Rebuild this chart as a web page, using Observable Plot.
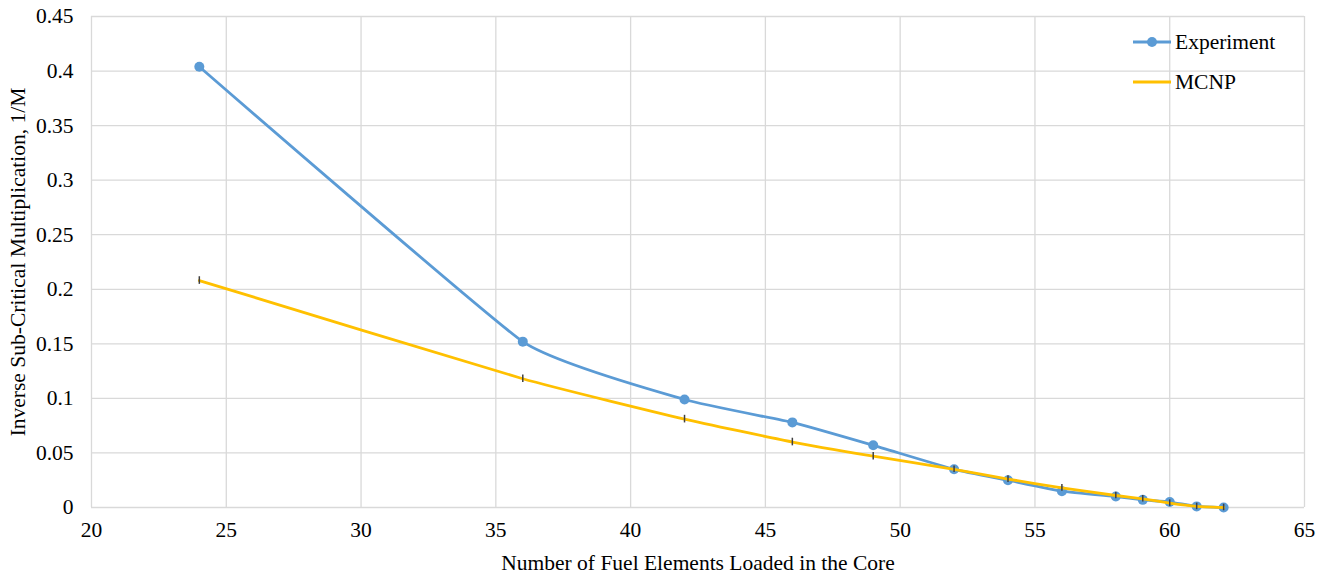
<!DOCTYPE html>
<html>
<head>
<meta charset="utf-8">
<script src="https://cdn.jsdelivr.net/npm/d3@7"></script>
<script src="https://cdn.jsdelivr.net/npm/@observablehq/plot@0.6"></script>
<style>
  html, body { margin: 0; padding: 0; background: #fff; }
  #wrap { position: relative; width: 1329px; height: 577px; font-family: "Liberation Serif", "Times New Roman", serif; }
  #legend { position: absolute; left: 1133px; top: 22px; font-size: 21.5px; color: #000; }
  .li { display: flex; align-items: center; height: 40px; }
  .li svg { margin-right: 4px; }
  #chart svg text { font-family: "Liberation Serif", "Times New Roman", serif; }
</style>
</head>
<body>
<div id="wrap">
  <div id="chart"></div>
  <div id="legend"></div>
</div>
<script>
const fuelElements = [24, 36, 42, 46, 49, 52, 54, 56, 58, 59, 60, 61, 62];
const experiment   = [0.404, 0.152, 0.099, 0.078, 0.057, 0.035, 0.025, 0.015, 0.010, 0.007, 0.005, 0.001, 0.000];
const mcnp         = [0.208, 0.118, 0.081, 0.060, 0.047, 0.035, 0.026, 0.018, 0.011, 0.008, 0.004, 0.001, 0.000];
const mcnpError    = [0.0035, 0.0035, 0.0035, 0.0035, 0.0035, 0.0030, 0.0030, 0.0030, 0.0030, 0.0030, 0.0030, 0.0030, 0.0030];
const xTicks = [20, 25, 30, 35, 40, 45, 50, 55, 60, 65];
const yTicks = [0, 0.05, 0.1, 0.15, 0.2, 0.25, 0.3, 0.35, 0.4, 0.45];
const seriesNames = ["Experiment", "MCNP"];
const seriesColors = ["#5B9BD5", "#FFC000"];

const serif = '"Liberation Serif", "Times New Roman", serif';
const expData = fuelElements.map((x, i) => ({x, y: experiment[i]}));
const mcnpData = fuelElements.map((x, i) => ({x, y: mcnp[i], lo: mcnp[i] - mcnpError[i], hi: mcnp[i] + mcnpError[i]}));

const chart = Plot.plot({
  width: 1329,
  height: 577,
  marginLeft: 91,
  marginRight: 25,
  marginTop: 16,
  marginBottom: 70,
  style: {fontFamily: serif, fontSize: "21.5px", color: "#000", background: "#fff"},
  x: {domain: [20, 65]},
  y: {domain: [0, 0.45]},
  marks: [
    Plot.gridX(xTicks, {stroke: "#d9d9d9", strokeOpacity: 1, strokeWidth: 1.3}),
    Plot.gridY(yTicks, {stroke: "#d9d9d9", strokeOpacity: 1, strokeWidth: 1.3}),
    Plot.axisX(xTicks, {tickSize: 0, tickPadding: 14, fill: "#000", fontSize: 21.5, fontFamily: serif, label: "Number of Fuel Elements Loaded in the Core", labelAnchor: "center", labelArrow: "none", labelOffset: 62}),
    Plot.axisY(yTicks, {tickSize: 0, tickPadding: 18, fill: "#000", fontSize: 21.5, fontFamily: serif, tickFormat: d => String(+d.toFixed(2)), label: "Inverse Sub-Critical Multiplication, 1/M", labelAnchor: "center", labelArrow: "none", labelOffset: 82}),
    Plot.line(expData, {x: "x", y: "y", stroke: seriesColors[0], strokeWidth: 2.8, curve: "cardinal", tension: 0.6}),
    Plot.dot(expData, {x: "x", y: "y", r: 5, fill: seriesColors[0], stroke: "none"}),
    Plot.line(mcnpData, {x: "x", y: "y", stroke: seriesColors[1], strokeWidth: 2.8, curve: "cardinal", tension: 0.6}),
    Plot.ruleX(mcnpData, {x: "x", y1: "lo", y2: "hi", stroke: "#404040", strokeWidth: 1.5})
  ]
});
document.getElementById("chart").appendChild(chart);

const legend = document.getElementById("legend");
seriesNames.forEach((name, i) => {
  const row = document.createElement("div");
  row.className = "li";
  const marker = i === 0 ? `<circle cx="19" cy="6" r="5" fill="${seriesColors[i]}"/>` : "";
  row.innerHTML = `<svg width="38" height="12"><line x1="0" x2="38" y1="6" y2="6" stroke="${seriesColors[i]}" stroke-width="2.8"/>${marker}</svg><span>${name}</span>`;
  legend.appendChild(row);
});
</script>
</body>
</html>
